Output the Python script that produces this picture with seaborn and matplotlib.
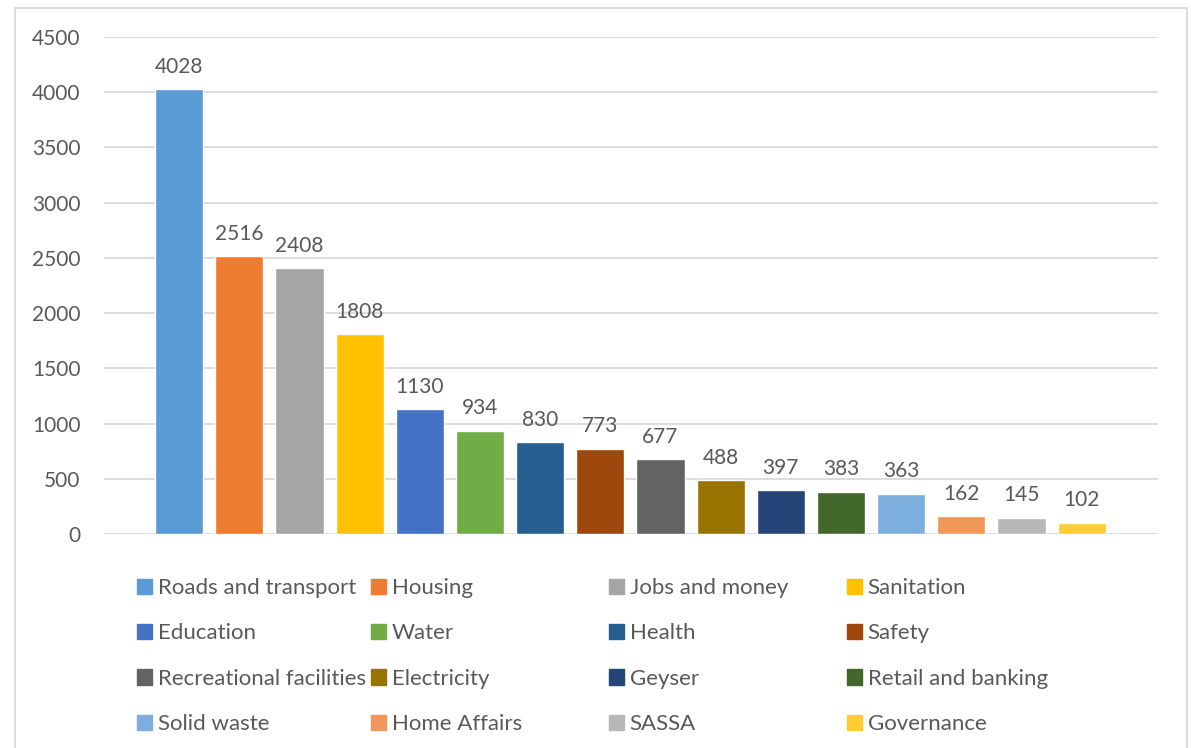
import matplotlib
matplotlib.use("Agg")
import matplotlib.pyplot as plt
import matplotlib.patches as mpatches
import seaborn as sns

# data
categories = ["Roads and transport", "Housing", "Jobs and money", "Sanitation",
              "Education", "Water", "Health", "Safety",
              "Recreational facilities", "Electricity", "Geyser", "Retail and banking",
              "Solid waste", "Home Affairs", "SASSA", "Governance"]
values = [4028, 2516, 2408, 1808, 1130, 934, 830, 773, 677, 488, 397, 383, 363, 162, 145, 102]
colors = ["#5B9BD5", "#ED7D31", "#A5A5A5", "#FFC000", "#4472C4", "#70AD47", "#255E91", "#9E480E",
          "#636363", "#997300", "#264478", "#43682B", "#7CAFDD", "#F1975A", "#B7B7B7", "#FFCD33"]
yticks = [0, 500, 1000, 1500, 2000, 2500, 3000, 3500, 4000, 4500]

sns.set_style("white")
plt.rcParams['font.family'] = ['Lato', 'DejaVu Sans']
txt = "#595959"

fig = plt.figure(figsize=(11.91, 7.48), dpi=100)
ax = fig.add_axes([104 / 1191, 1 - 534 / 748, (1158 - 104) / 1191, (534 - 37) / 748])

sns.barplot(x=categories, y=values, hue=categories, palette=colors,
            legend=False, width=0.8, saturation=1, ax=ax)

for c in ax.containers:
    ax.bar_label(c, padding=9, fontsize=15, color=txt)

ax.set_ylim(0, 4500)
ax.set_yticks(yticks)
ax.set_xlim(-1.25, 16.27)
ax.set_xticks([])
ax.set_xlabel("")
ax.set_ylabel("")
ax.yaxis.grid(True, color="#d9d9d9", linewidth=1.3)
ax.set_axisbelow(True)
for s in ax.spines.values():
    s.set_visible(False)
ax.tick_params(axis="y", length=0, pad=17, labelsize=15, labelcolor=txt)

# outer chart border
fig.patches.append(mpatches.Rectangle((15 / 1191, -0.05), (1187 - 15) / 1191, 1.05 - 8 / 748,
                                      transform=fig.transFigure, fill=False,
                                      edgecolor="#d9d9d9", linewidth=1.3))

# legend: 4 columns, filled row by row
col_x = [137, 371, 609, 847]
for j in range(4):
    idx = [j, j + 4, j + 8, j + 12]
    handles = [mpatches.Patch(color=colors[i], label=categories[i]) for i in idx]
    fig.legend(handles=handles, loc="upper left",
               bbox_to_anchor=(col_x[j] / 1191, 1 - 578 / 748),
               frameon=False, fontsize=16, labelcolor=txt,
               handlelength=0.68, handleheight=0.68, handletextpad=0.25,
               labelspacing=1.14, borderpad=0, borderaxespad=0)

fig.savefig("out.png", dpi=100)
